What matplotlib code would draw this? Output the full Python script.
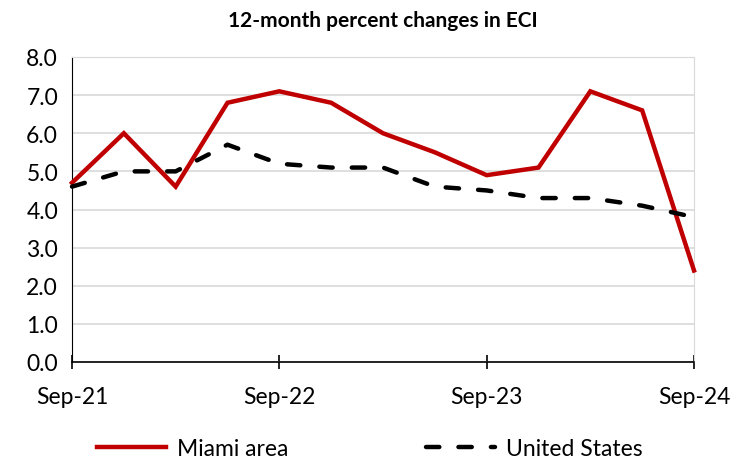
import matplotlib

matplotlib.use("Agg")

import matplotlib.pyplot as plt
import numpy as np

quarters = ["Sep-21", "Dec-21", "Mar-22", "Jun-22", "Sep-22", "Dec-22", "Mar-23",
            "Jun-23", "Sep-23", "Dec-23", "Mar-24", "Jun-24", "Sep-24"]
miami = [4.7, 6.0, 4.6, 6.8, 7.1, 6.8, 6.0, 5.5, 4.9, 5.1, 7.1, 6.6, 2.4]
united_states = [4.6, 5.0, 5.0, 5.7, 5.2, 5.1, 5.1, 4.6, 4.5, 4.3, 4.3, 4.1, 3.8]
year_labels = ["Sep-21", "Sep-22", "Sep-23", "Sep-24"]
y_ticks = [0.0, 1.0, 2.0, 3.0, 4.0, 5.0, 6.0, 7.0, 8.0]

plt.rcParams["font.family"] = ["Lato", "DejaVu Sans"]

x = np.arange(len(quarters))

fig = plt.figure(figsize=(7.47, 4.6), dpi=100)
ax = fig.add_axes([72 / 747, 1 - 363 / 460, (694 - 72) / 747, (363 - 58) / 460])

ax.plot(x, miami, color="#C00000", linewidth=3.2, label="Miami area",
        solid_joinstyle="miter", clip_on=False, zorder=3)
ax.plot(x, united_states, color="black", linewidth=3.2, linestyle=(0, (3.0, 4.3)),
        dash_capstyle="round", label="United States", clip_on=False, zorder=3)

ax.set_xlim(0, len(quarters) - 1)
ax.set_ylim(0, 8)
ax.set_yticks(y_ticks)
ax.set_yticklabels([f"{v:.1f}" for v in y_ticks], fontsize=16.5)
ax.set_xticks([quarters.index(q) for q in year_labels])
ax.set_xticklabels(year_labels, fontsize=16.5)
ax.tick_params(axis="y", length=0, pad=10)
ax.tick_params(axis="x", direction="inout", length=10, width=1.2, pad=12)

ax.grid(axis="y", color="#d9d9d9", linewidth=1.2)
ax.set_axisbelow(True)
ax.spines["left"].set_color("black")
ax.spines["bottom"].set_color("black")
ax.spines["bottom"].set_linewidth(1.2)
ax.spines["top"].set_color("#d9d9d9")
ax.spines["right"].set_color("#d9d9d9")

ax.set_title("12-month percent changes in ECI", fontsize=15, fontweight="bold", pad=22)

fig.legend(loc="lower center", ncol=2, frameon=False, fontsize=16.5,
           bbox_to_anchor=(0.495, -0.045), columnspacing=6.0, handlelength=3.0,
           handletextpad=0.5)

fig.savefig("out.png", dpi=100)
